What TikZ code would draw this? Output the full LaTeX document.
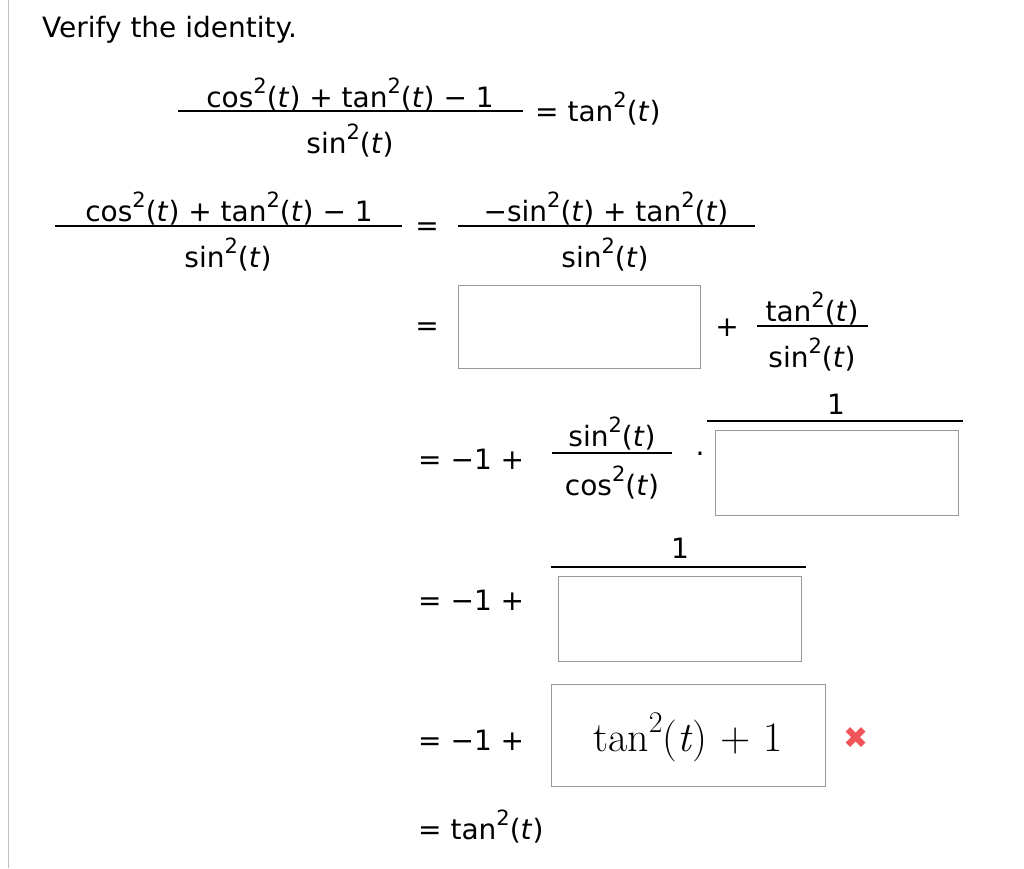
\documentclass[tikz,border=0pt]{standalone}
\usepackage{fontspec}
\setmainfont{DejaVu Sans}
\newfontfamily\lmr{Latin Modern Roman}
\newcommand{\tw}{\raisebox{0.5em}{\fontsize{21}{21}\selectfont 2}}
\newcommand{\vt}{\textit{t}}
\begin{document}
\begin{tikzpicture}[x=1pt,y=-1pt,
  tx/.style={inner sep=0pt,font=\fontsize{28}{30}\selectfont},
  bar/.style={line width=1.6pt},
  ans/.style={draw=gray!80,line width=1pt}]
\useasboundingbox (0,0) rectangle (1024,868);
\fill[white] (0,0) rectangle (1024,868);
\draw[gray!50,line width=1pt] (8,0) -- (8,868);
\node[tx,anchor=west,font=\fontsize{28}{30}\selectfont] (title) at (42,30) {Verify the identity.};
% row 1
\node[tx] (n1) at (350,95) {cos\tw(\vt) + tan\tw(\vt) − 1};
\draw[bar] (178,111) -- (523,111);
\node[tx] (d1) at (350,141) {sin\tw(\vt)};
\node[tx,anchor=west] (r1) at (535,109) {= tan\tw(\vt)};
% row 2
\node[tx] (n2) at (229,209) {cos\tw(\vt) + tan\tw(\vt) − 1};
\draw[bar] (55,226) -- (402,226);
\node[tx] (d2) at (228,255) {sin\tw(\vt)};
\node[tx] (e2) at (427,229) {=};
\node[tx] (n2b) at (606,209) {−sin\tw(\vt) + tan\tw(\vt)};
\draw[bar] (458,226) -- (755,226);
\node[tx] (d2b) at (605,255) {sin\tw(\vt)};
% row 3
\node[tx] (e3) at (427,329) {=};
\draw[ans] (458,285) rectangle (700,368);
\node[tx] (p3) at (727,328) {+};
\node[tx] (n3) at (812,309) {tan\tw(\vt)};
\draw[bar] (757,326) -- (868,326);
\node[tx] (d3) at (812,355) {sin\tw(\vt)};
% row 4
\node[tx,anchor=west] (e4) at (418,459) {= −1 +};
\node[tx] (n4) at (612,434) {sin\tw(\vt)};
\draw[bar] (552,453) -- (672,453);
\node[tx] (d4) at (612,483) {cos\tw(\vt)};
\node[tx] (dot) at (700,458) {·};
\node[tx] (o4) at (836,404) {1};
\draw[bar] (707,421) -- (963,421);
\draw[ans] (715,430) rectangle (958,515);
% row 5
\node[tx,anchor=west] (e5) at (418,600) {= −1 +};
\node[tx] (o5) at (680,548) {1};
\draw[bar] (551,567) -- (806,567);
\draw[ans] (558,576) rectangle (801,661);
% row 6
\node[tx,anchor=west] (e6) at (418,740) {= −1 +};
\draw[ans] (551,684) rectangle (825,786);
\node[inner sep=0pt,font=\lmr\fontsize{42}{44}\selectfont] (a6) at (688,737) {tan\raisebox{0.45em}{\fontsize{30}{30}\selectfont 2}(\textit{t}) + 1};
\node[inner sep=0pt,text={rgb,255:red,240;green,85;blue,90},font=\fontsize{30}{30}\selectfont] (x6) at (856,738) {✖};
% row 7
\node[tx,anchor=west] (e7) at (418,827) {= tan\tw(\vt)};
\end{tikzpicture}
\end{document}
